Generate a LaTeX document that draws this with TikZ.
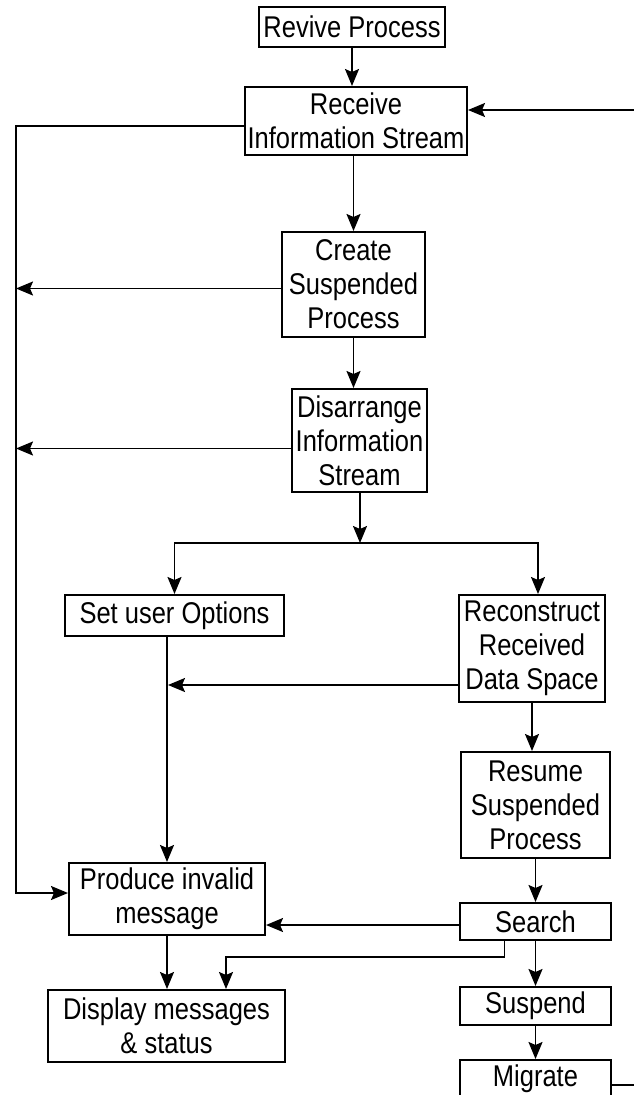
\documentclass[tikz,border=0pt]{standalone}
\usepackage{fontspec}
\setmainfont{Liberation Sans}[FakeStretch=0.85]
\usetikzlibrary{arrows.meta}

\begin{document}
\begin{tikzpicture}
[x=1pt, y=-1pt,
 caja/.style={draw, line width=2pt, inner sep=0pt, align=center, font=\fontsize{30}{34}\selectfont},
 flecha/.style={line width=1.8pt, -{Stealth[length=17pt,width=14pt,inset=3pt]}}]
\useasboundingbox (0,0) rectangle (634,1095);
\clip (0,0) rectangle (634,1095);
\node (revivir) [caja, minimum width=186pt, minimum height=40pt] at (352,27) {Revive Process}; % inicio
\node (recibir) [caja, minimum width=222pt, minimum height=68pt] at (356,121) {Receive\\Information Stream};
\node (crear) [caja, minimum width=143pt, minimum height=105pt] at (353.5,284.5) {Create\\Suspended\\Process};
\node (desordenar) [caja, minimum width=135pt, minimum height=103pt] at (359.5,440.5) {Disarrange\\Information\\Stream};
\node (opciones) [caja, minimum width=219pt, minimum height=41pt] at (174.5,615.5) {Set user Options};
\node (reconstruir) [caja, minimum width=146pt, minimum height=107pt] at (532,648.5) {Reconstruct\\Received\\Data Space};
\node (reanudar) [caja, minimum width=149pt, minimum height=106pt] at (535.5,805) {Resume\\Suspended\\Process};
\node (buscar) [caja, minimum width=151pt, minimum height=37pt, node distance=116.5pt, below of = reanudar] {Search};
\node (suspender) [caja, minimum width=151pt, minimum height=38pt, node distance=84.5pt, below of = buscar] {Suspend};
\node (migrar) [caja, minimum width=151pt, minimum height=38pt, node distance=73pt, below of = suspender] {Migrate};
\node (invalido) [caja, minimum width=196pt, minimum height=72pt] at (167,899) {Produce invalid\\message};
\node (mostrar) [caja, minimum width=237pt, minimum height=72pt] at (166.5,1026) {Display messages\\\& status};

\coordinate (izq) at (16,126);
\coordinate (rama) at (360,543);
\coordinate (c1) at (168,685);
\coordinate (c2) at (226,957);

% columna central
\draw[flecha] (revivir.south) -- (revivir.south |- recibir.north);
\draw[flecha] (crear.north |- recibir.south) -- (crear.north);
\draw[flecha] (crear) -- (crear |- desordenar.north);
\draw[flecha] (rama |- desordenar.south) -- (rama);
\draw[flecha] (rama) -| (opciones);
\draw[flecha] (rama) -| ([xshift=6pt]reconstruir.north);
% linea izquierda
\draw[flecha] (recibir.west |- izq) -- (izq) |- ([yshift=6pt]invalido.west);
\draw[flecha] ([yshift=-4pt]crear.west) -- ([yshift=-4pt]crear.west -| izq);
\draw[flecha] ([yshift=-8pt]desordenar.west) -- ([yshift=-8pt]desordenar.west -| izq);
\draw[flecha] (invalido.north |- opciones.south) -- (invalido.north);
\draw[flecha] (reconstruir.west |- c1) -- (c1);
% columna derecha
\draw[flecha] (reconstruir) -- (reconstruir |- reanudar.north);
\draw[flecha] (reanudar) -- (buscar);
\draw[flecha] (buscar) -- (suspender);
\draw[flecha] (suspender) -- (migrar);
\draw[flecha] ([yshift=-3.5pt]buscar.west) -- ([yshift=-3.5pt]buscar.west -| invalido.east);
\draw[flecha] (invalido) -- (invalido |- mostrar.north);
\draw[flecha] ([xshift=-31pt]buscar.south) |- (c2) -- (c2 |- mostrar.north);
\draw[flecha] ([yshift=-6pt]migrar.east) -- ++(40,0) |- ([yshift=11pt]recibir.east);
\end{tikzpicture}
\end{document}
